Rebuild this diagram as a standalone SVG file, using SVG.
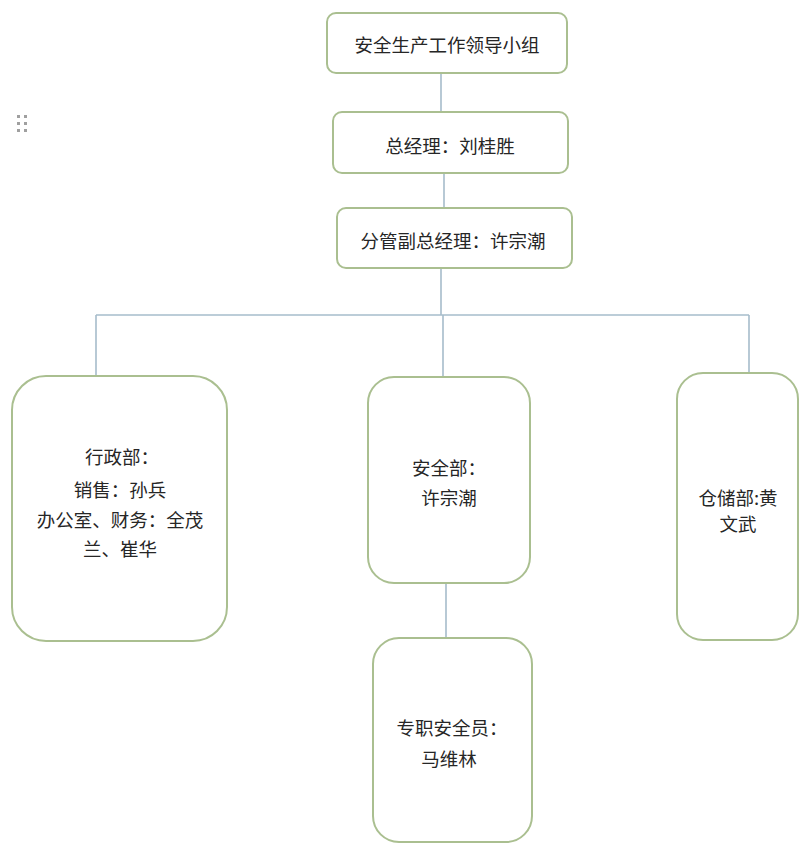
<svg xmlns="http://www.w3.org/2000/svg" width="799" height="843" viewBox="0 0 799 843">
<style>
.box{fill:#ffffff;stroke:#aabf90;stroke-width:2}
.ln{stroke:#a6bccb;stroke-width:1.6;fill:none}
text{font-family:"Noto Sans CJK SC","Noto Sans",sans-serif;font-size:18.5px;fill:#262626;text-anchor:middle;dominant-baseline:central}
.grip{fill:#a0a0a0}
</style>
<rect width="799" height="843" fill="#ffffff"/>
<g id="grip">
<rect class="grip" x="17" y="115" width="3" height="3"/><rect class="grip" x="24" y="115" width="3" height="3"/>
<rect class="grip" x="17" y="122" width="3" height="3"/><rect class="grip" x="24" y="122" width="3" height="3"/>
<rect class="grip" x="17" y="129" width="3" height="3"/><rect class="grip" x="24" y="129" width="3" height="3"/>
</g>
<g id="connectors">
<line class="ln" x1="441" y1="73" x2="441" y2="112"/>
<line class="ln" x1="444" y1="173" x2="444" y2="208"/>
<line class="ln" x1="441" y1="268" x2="441" y2="315"/>
<line class="ln" x1="96" y1="315" x2="749" y2="315"/>
<line class="ln" x1="96" y1="315" x2="96" y2="376"/>
<line class="ln" x1="443" y1="315" x2="443" y2="377"/>
<line class="ln" x1="749" y1="315" x2="749" y2="373"/>
<line class="ln" x1="446" y1="583" x2="446" y2="638"/>
</g>
<g id="n1"><rect class="box" x="327" y="13" width="240" height="60" rx="9"/><text x="447" y="44">安全生产工作领导小组</text></g>
<g id="n2"><rect class="box" x="333" y="112" width="235" height="61" rx="9"/><text x="450" y="145">总经理：刘桂胜</text></g>
<g id="n3"><rect class="box" x="337" y="208" width="235" height="60" rx="9"/><text x="453" y="240">分管副总经理：许宗潮</text></g>
<g id="n4"><rect class="box" x="12" y="376" width="215" height="265" rx="34"/>
<text x="122" y="456">行政部：</text>
<text x="120" y="489">销售：孙兵</text>
<text x="120" y="519">办公室、财务：全茂</text>
<text x="120" y="548">兰、崔华</text></g>
<g id="n5"><rect class="box" x="368" y="377" width="162" height="206" rx="26"/>
<text x="449" y="467">安全部：</text>
<text x="449" y="497">许宗潮</text></g>
<g id="n6"><rect class="box" x="677" y="373" width="121" height="267" rx="26"/>
<text x="738" y="497">仓储部:黄</text>
<text x="738" y="523">文武</text></g>
<g id="n7"><rect class="box" x="373" y="638" width="159" height="204" rx="26"/>
<text x="452" y="727">专职安全员：</text>
<text x="449" y="758">马维林</text></g>
</svg>
